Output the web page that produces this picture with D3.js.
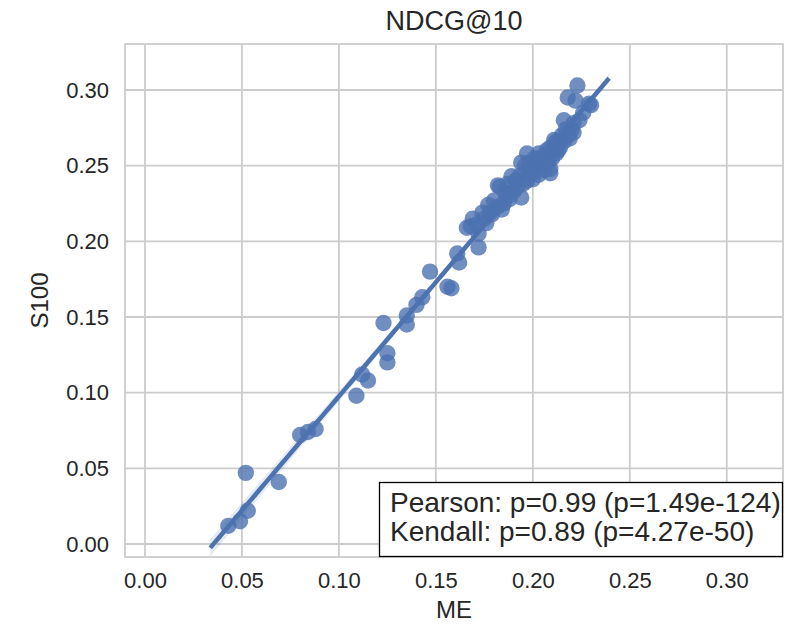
<!DOCTYPE html>
<meta charset="utf-8">
<style>
body { margin: 0; background: #fff; }
text { font-family: "Liberation Sans", Arial, sans-serif; fill: #262626; }
.grid line { stroke: #cccccc; stroke-width: 1.8px; }
.tick text { font-size: 22px; }
</style>
<svg width="802" height="629"></svg>
<script src="https://d3js.org/d3.v7.min.js"></script>
<script>
// scores of each system, ME on x and S100 on y
var me = [
  0.043, 0.049, 0.053, 0.052, 0.069, 0.080, 0.084, 0.088, 0.109, 0.112,
  0.115, 0.125, 0.125, 0.123, 0.135, 0.135, 0.140, 0.143, 0.147, 0.156,
  0.158, 0.161, 0.162, 0.168, 0.172, 0.172, 0.175, 0.178, 0.182, 0.166,
  0.169, 0.174, 0.180, 0.182, 0.189, 0.194, 0.197, 0.209, 0.213, 0.203,
  0.223, 0.218, 0.222, 0.230, 0.216, 0.220, 0.211, 0.194, 0.209, 0.183,
  0.185, 0.186, 0.188, 0.190, 0.191, 0.192, 0.195, 0.196, 0.196, 0.199,
  0.200, 0.201, 0.200, 0.204, 0.205, 0.206, 0.207, 0.210, 0.211, 0.212,
  0.214, 0.216, 0.215, 0.219, 0.221, 0.221, 0.224, 0.226, 0.229, 0.176,
  0.179, 0.184, 0.187, 0.198, 0.202, 0.208, 0.213, 0.218, 0.177, 0.171,
  0.187, 0.193, 0.197, 0.203, 0.206, 0.209, 0.212, 0.217, 0.203, 0.198
];
var s100 = [
  0.012, 0.015, 0.022, 0.047, 0.041, 0.072, 0.074, 0.076, 0.098, 0.112,
  0.108, 0.120, 0.126, 0.146, 0.145, 0.151, 0.158, 0.163, 0.180, 0.170,
  0.169, 0.192, 0.186, 0.210, 0.196, 0.205, 0.215, 0.219, 0.223, 0.209,
  0.215, 0.219, 0.227, 0.237, 0.243, 0.229, 0.258, 0.245, 0.260, 0.254,
  0.303, 0.295, 0.293, 0.290, 0.280, 0.274, 0.267, 0.252, 0.248, 0.236,
  0.225, 0.232, 0.228, 0.233, 0.240, 0.236, 0.238, 0.245, 0.250, 0.245,
  0.250, 0.255, 0.241, 0.250, 0.256, 0.247, 0.260, 0.255, 0.262, 0.258,
  0.262, 0.266, 0.270, 0.268, 0.272, 0.278, 0.280, 0.285, 0.291, 0.212,
  0.218, 0.221, 0.238, 0.252, 0.248, 0.252, 0.265, 0.270, 0.224, 0.211,
  0.230, 0.243, 0.240, 0.258, 0.252, 0.262, 0.266, 0.274, 0.244, 0.247
];
var tickValues = [0.00, 0.05, 0.10, 0.15, 0.20, 0.25, 0.30];
var statLines = [
  "Pearson: p=0.99 (p=1.49e-124)",
  "Kendall: p=0.89 (p=4.27e-50)"
];

var svg = d3.select("svg");
var margin = {left: 125, right: 19, top: 44, bottom: 72};
var width = +svg.attr("width") - margin.left - margin.right,
    height = +svg.attr("height") - margin.top - margin.bottom;
var blue = "#4c72b0";

var x = d3.scaleLinear().domain([-0.0103, 0.3290]).range([0, width]);
var y = d3.scaleLinear().domain([-0.0086, 0.3304]).range([height, 0]);

var g = svg.append("g").attr("transform", "translate(" + margin.left + "," + margin.top + ")");

// grid
var grid = g.append("g").attr("class", "grid");
grid.selectAll("line.v").data(tickValues).enter().append("line")
    .attr("x1", function(d) { return x(d); }).attr("x2", function(d) { return x(d); })
    .attr("y1", 0).attr("y2", height);
grid.selectAll("line.h").data(tickValues).enter().append("line")
    .attr("y1", function(d) { return y(d); }).attr("y2", function(d) { return y(d); })
    .attr("x1", 0).attr("x2", width);

// axes, labels only
var xAxis = g.append("g").attr("transform", "translate(0," + height + ")")
    .call(d3.axisBottom(x).tickValues(tickValues).tickFormat(d3.format(".2f")).tickSize(0).tickPadding(15));
var yAxis = g.append("g")
    .call(d3.axisLeft(y).tickValues(tickValues).tickFormat(d3.format(".2f")).tickSize(0).tickPadding(16));
xAxis.select(".domain").remove();
yAxis.select(".domain").remove();
svg.selectAll(".tick text").attr("fill", "#262626").style("font-family", '"Liberation Sans", Arial, sans-serif');

// frame
g.append("rect").attr("width", width).attr("height", height)
    .attr("fill", "none").attr("stroke", "#cccccc").attr("stroke-width", 1.8);

// linear fit with 95% band, over the data range padded by 5%
var n = me.length;
var mx = d3.mean(me), my = d3.mean(s100);
var sxx = d3.sum(me, function(v) { return (v - mx) * (v - mx); });
var sxy = d3.sum(me, function(v, i) { return (v - mx) * (s100[i] - my); });
var slope = sxy / sxx, icpt = my - slope * mx;
var sse = d3.sum(me, function(v, i) { var r = s100[i] - (icpt + slope * v); return r * r; });
var se = Math.sqrt(sse / (n - 2));
var ext = d3.extent(me), pad = (ext[1] - ext[0]) * 0.05;
var xs = d3.range(0, 101).map(function(i) { return ext[0] - pad + (ext[1] - ext[0] + 2 * pad) * i / 100; });
var fit = xs.map(function(v) {
  var h = 1.985 * se * Math.sqrt(1 / n + (v - mx) * (v - mx) / sxx);
  var yy = icpt + slope * v;
  return {x: v, y: yy, lo: yy - h, hi: yy + h};
});

// points
g.append("g").selectAll("circle")
    .data(me)
    .enter().append("circle")
    .attr("cx", function(d) { return x(d); })
    .attr("cy", function(d, i) { return y(s100[i]); })
    .attr("r", 8.2)
    .attr("fill", blue)
    .attr("fill-opacity", 0.8);

g.append("path").datum(fit)
    .attr("fill", blue).attr("fill-opacity", 0.15)
    .attr("d", d3.area().x(function(d) { return x(d.x); })
      .y0(function(d) { return y(d.lo); }).y1(function(d) { return y(d.hi); }));
g.append("path").datum(fit)
    .attr("fill", "none").attr("stroke", blue).attr("stroke-width", 4.5)
    .attr("d", d3.line().x(function(d) { return x(d.x); }).y(function(d) { return y(d.y); }));

// title and axis labels
svg.append("text").attr("x", margin.left + width / 2).attr("y", 30)
    .attr("text-anchor", "middle").style("font-size", "27px").text("NDCG@10");
svg.append("text").attr("x", margin.left + width / 2).attr("y", 618)
    .attr("text-anchor", "middle").style("font-size", "24px").text("ME");
svg.append("text").attr("transform", "translate(48," + (margin.top + height / 2) + ") rotate(-90)")
    .attr("text-anchor", "middle").style("font-size", "24px").text("S100");

// stats box
var box = svg.append("g");
box.append("rect").attr("x", 379.5).attr("y", 482.5).attr("width", 403).attr("height", 74)
    .attr("fill", "#fff").attr("stroke", "#000").attr("stroke-width", 1.3);
box.selectAll("text").data(statLines).enter().append("text")
    .attr("x", 390).attr("y", function(d, i) { return 512 + i * 29; })
    .style("font-size", "28px").text(function(d) { return d; });
</script>
